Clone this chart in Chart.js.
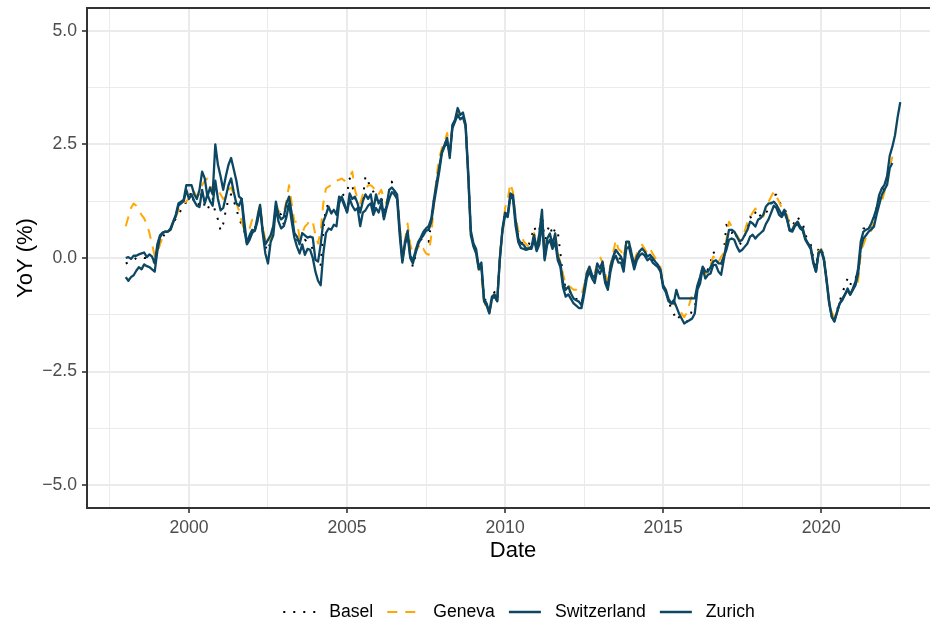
<!DOCTYPE html>
<html>
<head>
<meta charset="utf-8">
<script src="https://cdn.jsdelivr.net/npm/chart.js@4.4.1/dist/chart.umd.min.js"></script>
<style>
  html, body { margin: 0; padding: 0; background: #fff; overflow: hidden; }
  #wrap { position: relative; width: 960px; height: 628px; }
</style>
</head>
<body>
<div id="wrap"><canvas id="chart"></canvas></div>
<script>
// YoY inflation, monthly, first value = January 1998
const firstYear = 1998;

const basel = [
  -0.12, -0.1, -0.08, -0.05, 0.0, 0.0, 0.02, 0.0, 0.0, -0.02, -0.05, -0.1,
  0.15, 0.35, 0.45, 0.55, 0.6, 0.63, 0.75, 0.87, 0.95, 1.06, 1.1, 1.25,
  1.35, 1.45, 1.2, 1.15, 1.2, 1.5, 1.1, 1.05, 1.2, 1.3, 1.0, 0.85,
  0.6, 0.75, 1.05, 1.3, 1.4, 1.25, 1.1, 0.85, 0.75, 0.6, 0.35, 0.35,
  0.6, 0.65, 0.85, 1.1, 0.6, 0.25, 0.15, 0.4, 0.6, 1.15, 1.02, 0.95,
  0.73, 1.0, 1.3, 0.95, 0.5, 0.4, 0.35, 0.21, 0.4, 0.35, 0.3, 0.2,
  -0.05, -0.12, -0.15, 0.6, 1.13, 1.15, 1.0, 1.06, 0.95, 1.3, 1.35, 1.42,
  1.42, 1.75, 1.6, 1.3, 1.15, 1.0, 1.3, 1.8, 1.7, 1.5, 1.46, 1.3,
  1.25, 1.35, 1.06, 1.2, 1.5, 1.68, 1.46, 1.35, 0.6, -0.05, 0.3, 0.55,
  0.0, -0.19, 0.05, 0.3, 0.4, 0.45, 0.4, 0.36, 0.8, 1.3, 1.7, 2.0,
  2.35, 2.5, 2.6, 2.25, 2.9, 3.0, 3.25, 3.1, 3.15, 2.9, 1.85, 0.55,
  0.3, 0.15, -0.2, -0.15, -0.9, -0.95, -1.15, -0.85, -0.75, -0.9, 0.0, 0.6,
  1.0, 0.95, 1.4, 1.35, 0.85, 0.45, 0.35, 0.3, 0.25, 0.3, 0.45, 0.69,
  0.55, 0.6, 1.06, 0.3, 0.6, 0.73, 0.5, 0.65, 0.58, 0.1, -0.45, -0.65,
  -0.65, -0.8, -0.85, -0.9, -0.93, -1.0, -0.7, -0.35, -0.2, -0.4, -0.45, -0.15,
  -0.25, -0.1, -0.45, -0.6, -0.2, 0.05, 0.15, -0.12, 0.05, -0.1, 0.35, 0.25,
  0.1, -0.15, 0.05, 0.15, 0.2, 0.1, 0.05, 0.05, -0.05, -0.1, -0.15, -0.3,
  -0.67, -0.75, -0.95, -1.1, -1.22, -1.37, -1.3, -1.38, -1.4, -1.4, -1.3, -1.15,
  -1.1, -0.7, -0.45, -0.2, -0.35, -0.25, -0.1, 0.14, 0.05, -0.15, -0.2, 0.1,
  0.73, 0.6, 0.55, 0.62, 0.45, 0.3, 0.35, 0.5, 0.65, 0.91, 0.85, 1.0,
  1.06, 0.9, 0.95, 1.0, 1.06, 1.2, 1.39, 1.39, 1.25, 1.15, 1.1, 0.95,
  0.75, 0.7, 0.8, 0.91, 0.8, 0.76, 0.5, 0.4, 0.3, 0.0, -0.2, 0.23,
  0.23, 0.0, -0.45, -0.95, -1.25, -1.35, -1.15, -0.95, -0.78, -0.6, -0.45, -0.6,
  -0.45, -0.45, -0.3, 0.1, 0.65, 0.65, 0.6, 0.65, 0.9, 1.1, 1.3, 1.4,
  1.55, 1.8, 2.0, 2.09
];

const geneva = [
  0.7, 0.9, 1.1, 1.2, 1.15, 1.05, 0.95, 0.87, 0.75, 0.55, 0.3, 0.05,
  0.1, 0.3, 0.45, 0.55, 0.58, 0.62, 0.75, 0.9, 1.05, 1.15, 1.2, 1.25,
  1.3, 1.5, 1.45, 1.35, 1.4, 1.6, 1.7, 1.75, 1.6, 1.5, 1.6, 1.5,
  1.4, 1.3, 1.35, 1.5, 1.55, 1.4, 1.2, 1.05, 0.8, 0.62, 0.6, 0.65,
  0.84, 0.84, 0.95, 1.17, 0.7, 0.4, 0.3, 0.45, 0.65, 1.15, 1.0, 1.06,
  1.0, 1.25, 1.6, 1.2, 0.8, 0.8, 0.43, 0.55, 0.69, 0.75, 0.84, 0.8,
  0.5, 0.32, 0.6, 1.2, 1.53, 1.57, 1.6, 1.68, 1.7, 1.72, 1.75, 1.7,
  1.75, 1.8, 1.9, 1.5, 1.3, 1.2, 1.4, 1.5, 1.6, 1.6, 1.55, 1.4,
  1.4, 1.5, 1.3, 1.2, 1.4, 1.45, 1.39, 1.35, 0.7, 0.1, 0.4, 0.76,
  0.3, 0.1, 0.2, 0.3, 0.14, 0.2, 0.1, 0.07, 0.5, 1.2, 1.8, 2.2,
  2.42, 2.55, 2.75, 2.4, 2.9, 3.0, 3.2, 3.1, 3.15, 2.9, 1.8, 0.5,
  0.3, 0.1, -0.25, -0.4, -0.95, -1.1, -1.2, -0.95, -0.8, -0.9, 0.14, 0.5,
  1.1, 1.3, 1.64, 1.45, 0.9, 0.6, 0.5, 0.38, 0.3, 0.25, 0.3, 0.55,
  0.3, 0.5, 0.95, 0.1, 0.45, 0.5, 0.35, 0.55, 0.1, -0.1, -0.35, -0.6,
  -0.6, -0.65, -0.7, -0.7, -0.75, -0.8, -0.6, -0.3, -0.2, -0.3, -0.35, -0.1,
  0.03, -0.1, -0.35, -0.5, -0.15, 0.1, 0.4, 0.2, 0.15, 0.0, 0.4, 0.3,
  0.15, -0.05, 0.1, 0.2, 0.29, 0.2, 0.1, 0.2, 0.1, 0.0, -0.1, -0.2,
  -0.6, -0.7, -0.85, -1.0, -1.0, -1.05, -1.1, -1.22, -1.3, -1.2, -1.0, -0.81,
  -0.9, -0.65, -0.5, -0.15, -0.35, -0.3, -0.15, 0.03, 0.0, -0.1, 0.03, 0.1,
  0.4, 0.8, 0.7, 0.55, 0.5, 0.4, 0.45, 0.6, 0.8, 0.9, 1.0, 1.09,
  1.0, 0.95, 0.91, 1.1, 1.24, 1.35, 1.46, 1.35, 1.24, 1.1, 1.0, 0.95,
  0.7, 0.65, 0.75, 0.8, 0.75, 0.6, 0.4, 0.3, 0.2, -0.1, -0.25, 0.15,
  0.2, -0.05, -0.5, -0.95, -1.2, -1.3, -1.15, -1.0, -0.9, -0.8, -0.75, -0.8,
  -0.7, -0.67, -0.5, 0.1, 0.29, 0.45, 0.55, 0.6, 0.8, 1.0, 1.24, 1.24,
  1.45, 1.7, 1.98, 2.23
];

const switzerland = [
  0.0, 0.02, -0.02, 0.05, 0.05, 0.08, 0.1, 0.12, 0.02, 0.08, 0.03, -0.12,
  0.3, 0.5, 0.56, 0.58, 0.58, 0.65, 0.8, 0.95, 1.2, 1.24, 1.28, 1.6,
  1.6, 1.6, 1.4, 1.3, 1.5, 1.9, 1.75, 1.35, 1.55, 1.4, 2.5, 2.05,
  1.8, 1.5, 1.8, 2.05, 2.2, 1.95, 1.7, 1.35, 1.3, 0.8, 0.32, 0.5,
  0.62, 0.6, 0.9, 1.17, 0.6, 0.3, 0.4, 0.5, 0.7, 1.24, 0.95, 0.85,
  0.9, 1.2, 1.35, 0.98, 0.55, 0.47, 0.3, 0.55, 0.5, 0.45, 0.47, 0.45,
  -0.04, -0.08, 0.3, 0.8, 0.95, 1.13, 0.98, 1.06, 0.95, 1.35, 1.3, 1.15,
  1.02, 1.42, 1.3, 1.35, 1.2, 1.0, 1.25, 1.4, 1.3, 1.4, 1.05, 1.4,
  1.2, 1.3, 0.9, 1.15, 1.5, 1.55, 1.48, 1.4, 0.65, -0.05, 0.35, 0.6,
  0.05, -0.05, 0.15, 0.35, 0.45, 0.58, 0.65, 0.7, 0.87, 1.3, 1.65, 2.0,
  2.34, 2.49, 2.64, 2.2, 2.93, 3.04, 3.3, 3.15, 3.2, 2.95, 1.9, 0.6,
  0.32, 0.2, -0.2, -0.1, -0.9, -1.0, -1.2, -0.85, -0.8, -0.95, 0.0, 0.65,
  1.0, 0.95, 1.42, 1.38, 0.84, 0.43, 0.32, 0.29, 0.21, 0.21, 0.25, 0.51,
  0.18, 0.54, 1.06, 0.0, 0.43, 0.54, 0.29, 0.54, 0.03, -0.12, -0.55, -0.7,
  -0.63, -0.78, -0.89, -0.93, -0.96, -1.04, -0.7, -0.34, -0.19, -0.37, -0.45, -0.12,
  -0.23, -0.08, -0.48, -0.63, -0.19, 0.03, 0.18, 0.1, 0.03, -0.15, 0.36, 0.36,
  0.1, -0.15, 0.03, 0.14, 0.21, 0.14, 0.03, 0.07, 0.0, -0.08, -0.15, -0.26,
  -0.6, -0.7, -0.89, -1.0, -0.93, -1.07, -1.22, -1.33, -1.44, -1.4, -1.37, -1.33,
  -1.22, -0.7, -0.56, -0.23, -0.45, -0.37, -0.34, -0.15, -0.15, -0.3, -0.37, -0.04,
  0.32, 0.62, 0.62, 0.58, 0.47, 0.36, 0.4, 0.51, 0.62, 0.8, 0.76, 0.69,
  0.84, 0.88, 0.95, 1.13, 1.2, 1.2, 1.24, 1.17, 1.06, 0.95, 1.06, 0.87,
  0.62, 0.62, 0.73, 0.8, 0.69, 0.65, 0.43, 0.32, 0.25, -0.08, -0.3, 0.1,
  0.18, 0.0, -0.45, -0.96, -1.29, -1.4, -1.18, -1.0, -0.93, -0.81, -0.67, -0.81,
  -0.67, -0.52, -0.23, 0.36, 0.58, 0.62, 0.65, 0.76, 0.91, 1.09, 1.39, 1.53,
  1.61, 1.8, 2.25, 2.45, 2.7, 3.1, 3.43
];

const zurich = [
  -0.42, -0.5, -0.42, -0.38, -0.28, -0.2, -0.25, -0.14, -0.18, -0.2, -0.25, -0.3,
  0.15, 0.45, 0.55, 0.58, 0.58, 0.62, 0.78, 0.92, 1.15, 1.2, 1.25, 1.5,
  1.3, 1.4, 1.25, 1.15, 1.12, 1.5, 1.2, 1.4, 1.25, 1.15, 1.7, 1.3,
  1.05, 1.1, 1.35, 1.6, 1.75, 1.45, 1.2, 1.15, 1.3, 0.62, 0.3, 0.4,
  0.55, 0.6, 0.8, 1.1, 0.55, 0.1, -0.12, 0.35, 0.5, 1.1, 0.8, 0.65,
  0.7, 0.9, 1.2, 0.8, 0.45, 0.25, 0.1, 0.3, 0.07, 0.2, 0.18, 0.0,
  -0.3, -0.5, -0.6, 0.1, 0.55, 0.65, 0.62, 0.73, 0.7, 1.2, 1.35, 1.2,
  1.0, 1.3, 1.15, 1.05, 1.1, 0.7, 1.0, 1.05, 1.15, 1.2, 0.95, 1.1,
  1.0, 1.2, 0.85, 1.1, 1.3, 1.45, 1.4, 1.3, 0.5, -0.1, 0.3, 0.5,
  0.0, -0.12, 0.1, 0.3, 0.42, 0.5, 0.6, 0.62, 0.8, 1.2, 1.55, 1.9,
  2.3, 2.45, 2.55, 2.3, 2.85, 3.0, 3.15, 3.05, 3.1, 2.9, 1.8, 0.5,
  0.25, 0.1, -0.25, -0.2, -0.95, -1.05, -1.22, -0.9, -0.85, -0.95, -0.05, 0.6,
  0.95, 0.9, 1.35, 1.3, 0.7, 0.35, 0.22, 0.2, 0.18, 0.2, 0.2, 0.4,
  0.15, 0.3, 0.8, -0.05, 0.3, 0.4, 0.2, 0.35, -0.05, -0.2, -0.65, -0.85,
  -0.8, -0.9, -1.0, -1.05, -1.1, -1.1, -0.8, -0.45, -0.3, -0.45, -0.55, -0.25,
  -0.35, -0.2, -0.55, -0.7, -0.3, -0.05, 0.05, -0.1, -0.1, -0.3, 0.2, 0.25,
  0.0, -0.25, -0.05, 0.05, 0.1, 0.05, -0.05, 0.0, -0.1, -0.15, -0.2, -0.3,
  -0.65, -0.75, -0.95, -1.0, -1.0, -0.7, -0.89, -0.89, -0.89, -0.89, -0.89, -0.89,
  -0.89, -0.6, -0.42, -0.19, -0.3, -0.3, -0.2, -0.08, -0.05, -0.12, -0.12, 0.03,
  0.18, 0.4, 0.43, 0.4, 0.25, 0.14, 0.18, 0.25, 0.32, 0.47, 0.51, 0.43,
  0.5, 0.55, 0.6, 0.75, 0.85, 1.0, 1.15, 1.1, 0.95, 0.9, 1.0, 0.85,
  0.6, 0.58, 0.7, 0.75, 0.65, 0.6, 0.4, 0.3, 0.2, -0.12, -0.3, 0.12,
  0.15, -0.05, -0.5, -1.0, -1.3, -1.38, -1.2, -1.0, -0.9, -0.8, -0.7, -0.8,
  -0.7, -0.6, -0.35, 0.21, 0.43, 0.5, 0.58, 0.63, 0.69, 0.95, 1.17, 1.39,
  1.5, 1.61, 1.98, 2.09
];

// axes
const xMajor = [2000, 2005, 2010, 2015, 2020];
const xMinor = [1997.5, 2002.5, 2007.5, 2012.5, 2017.5, 2022.5];
const yMajor = [-5, -2.5, 0, 2.5, 5];
const yMinor = [-3.75, -1.25, 1.25, 3.75];

const FONT = '"Liberation Sans", Arial, Helvetica, sans-serif';
const DARK = '#0c4764';

function toPoints(values) {
  return values.map((v, i) => ({ x: firstYear + i / 12, y: v }));
}

function allTicks(major, minor) {
  return major.concat(minor).sort((a, b) => a - b).map(v => ({ value: v }));
}

function gridStyle(major) {
  const isMajor = c => c.tick && major.includes(c.tick.value);
  return {
    color: '#ebebeb',
    lineWidth: c => isMajor(c) ? 2 : 1,
    tickColor: c => isMajor(c) ? '#333333' : 'rgba(0,0,0,0)',
    tickLength: 5,
    tickWidth: 1.6
  };
}

// panel border (theme_bw)
const panelBorder = {
  id: 'panelBorder',
  afterDatasetsDraw(chart) {
    const a = chart.chartArea, ctx = chart.ctx;
    ctx.save();
    ctx.strokeStyle = '#333333';
    ctx.lineWidth = 2;
    ctx.strokeRect(a.left, a.top, a.right - a.left, a.bottom - a.top);
    ctx.restore();
  }
};

// legend below the plot, one row
const bottomLegend = {
  id: 'bottomLegend',
  afterDraw(chart) {
    const ctx = chart.ctx;
    const keyW = 32, gapKey = 14, gapItem = 14;
    const centerX = 519, y = 612;
    ctx.save();
    ctx.font = '17.6px ' + FONT;
    const items = chart.data.datasets.map(ds => ({ ds, w: ctx.measureText(ds.label).width }));
    const total = items.reduce((s, it) => s + keyW + gapKey + it.w, 0) + gapItem * (items.length - 1);
    let x = centerX - total / 2;
    items.forEach(it => {
      ctx.strokeStyle = it.ds.borderColor;
      ctx.lineWidth = it.ds.borderWidth;
      ctx.setLineDash(it.ds.borderDash || []);
      ctx.beginPath();
      ctx.moveTo(x, y);
      ctx.lineTo(x + keyW, y);
      ctx.stroke();
      ctx.setLineDash([]);
      ctx.fillStyle = '#000';
      ctx.textBaseline = 'middle';
      ctx.textAlign = 'left';
      ctx.fillText(it.ds.label, x + keyW + gapKey, y);
      x += keyW + gapKey + it.w + gapItem;
    });
    ctx.restore();
  }
};

new Chart(document.getElementById('chart'), {
  type: 'line',
  data: {
    datasets: [
      { label: 'Basel', data: toPoints(basel), borderColor: '#000000', borderWidth: 2, borderDash: [2, 8], order: 4 },
      { label: 'Geneva', data: toPoints(geneva), borderColor: '#ffa800', borderWidth: 2, borderDash: [10, 8], order: 3 },
      { label: 'Switzerland', data: toPoints(switzerland), borderColor: DARK, borderWidth: 2.3, order: 2 },
      { label: 'Zurich', data: toPoints(zurich), borderColor: DARK, borderWidth: 2.3, order: 1 }
    ]
  },
  options: {
    responsive: true,
    maintainAspectRatio: false,
    animation: false,
    events: [],
    layout: { padding: { left: 0, right: 21, top: 8, bottom: 64 } },
    elements: {
      point: { radius: 0 },
      line: { tension: 0, borderJoinStyle: 'round', fill: false }
    },
    plugins: { legend: { display: false }, tooltip: { enabled: false } },
    scales: {
      x: {
        type: 'linear',
        min: 1996.775,
        max: 2023.725,
        afterBuildTicks: s => { s.ticks = allTicks(xMajor, xMinor); },
        afterFit: s => { s.height = 56; s.paddingLeft = 0; s.paddingRight = 0; },
        grid: gridStyle(xMajor),
        border: { display: false },
        ticks: {
          autoSkip: false,
          maxRotation: 0,
          padding: 5,
          color: '#4d4d4d',
          font: { family: FONT, size: 17.6 },
          callback: v => xMajor.includes(v) ? String(v) : ''
        },
        title: {
          display: true,
          text: 'Date',
          color: '#000',
          font: { family: FONT, size: 22 },
          padding: { top: 0, bottom: 0 }
        }
      },
      y: {
        min: -5.5,
        max: 5.5,
        afterBuildTicks: s => { s.ticks = allTicks(yMajor, yMinor); },
        afterFit: s => { s.width = 87; s.paddingTop = 0; s.paddingBottom = 0; },
        grid: gridStyle(yMajor),
        border: { display: false },
        ticks: {
          autoSkip: false,
          padding: 5,
          color: '#4d4d4d',
          font: { family: FONT, size: 17.6 },
          callback: v => yMajor.includes(v) ? v.toFixed(1).replace('-', '\u2212') : ''
        },
        title: {
          display: true,
          text: 'YoY (%)',
          color: '#000',
          font: { family: FONT, size: 22 },
          padding: { top: 13, bottom: 0 }
        }
      }
    }
  },
  plugins: [panelBorder, bottomLegend]
});
</script>
</body>
</html>
